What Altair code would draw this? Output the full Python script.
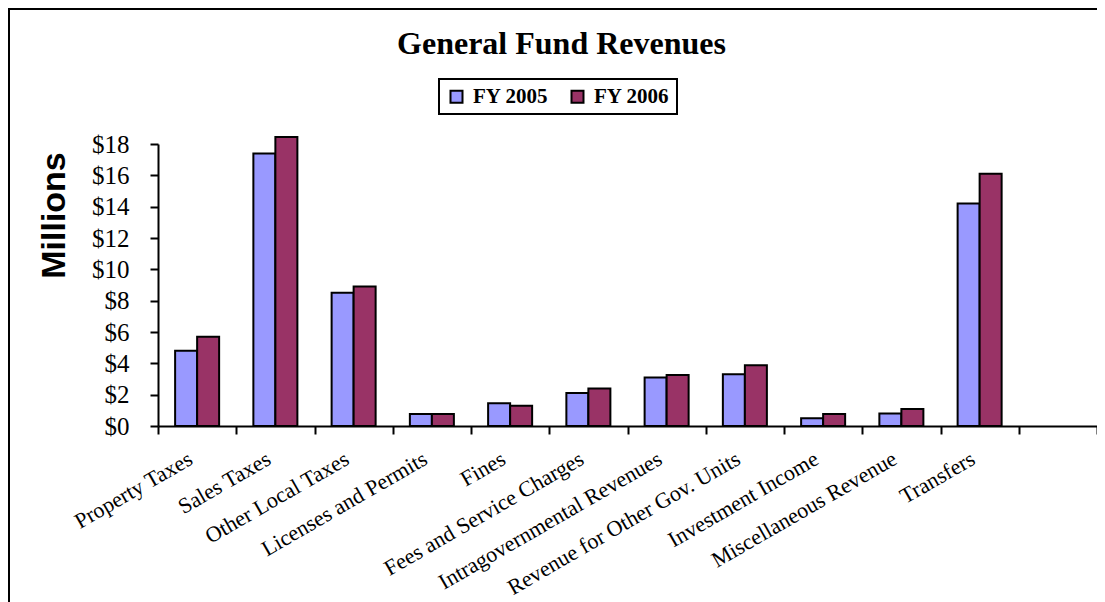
import altair as alt
import pandas as pd

categories = ["Property Taxes", "Sales Taxes", "Other Local Taxes", "Licenses and Permits",
              "Fines", "Fees and Service Charges", "Intragovernmental Revenues",
              "Revenue for Other Gov. Units", "Investment Income", "Miscellaneous Revenue",
              "Transfers"]
fy2005 = [4.8, 17.4, 8.5, 0.77, 1.45, 2.1, 3.1, 3.3, 0.5, 0.8, 14.2]
fy2006 = [5.7, 18.45, 8.9, 0.77, 1.3, 2.4, 3.25, 3.87, 0.77, 1.08, 16.1]
series = ["FY 2005", "FY 2006"]
colors = ["#9999FF", "#993366"]
y_ticks = [0, 2, 4, 6, 8, 10, 12, 14, 16, 18]
x_domain = categories + [" "]

rows = []
for c, a, b in zip(categories, fy2005, fy2006):
    rows.append({"Category": c, "Series": series[0], "Value": a})
    rows.append({"Category": c, "Series": series[1], "Value": b})
df = pd.DataFrame(rows)

frame = alt.Chart(pd.DataFrame({"k": [0]})).mark_rect(
    filled=False, stroke="black", strokeWidth=2
).encode(
    x=alt.value(-149), x2=alt.value(960), y=alt.value(-135), y2=alt.value(480)
)

bars = alt.Chart(df).mark_bar(stroke="black", strokeWidth=2, clip=False).encode(
    x=alt.X("Category:N", sort=None,
            scale=alt.Scale(domain=x_domain, paddingInner=0, paddingOuter=0),
            axis=alt.Axis(title=None, labelAngle=-30, labelFont="Liberation Serif",
                          labelFontSize=22, labelColor="black", labelPadding=14,
                          labelOffset=-12, labelLimit=600,
                          domainColor="black", domainWidth=2, tickColor="black",
                          tickWidth=2, tickSize=8, tickBand="extent", labelOverlap=False)),
    xOffset=alt.XOffset("Series:N", scale=alt.Scale(domain=series, paddingInner=0,
                                                      paddingOuter=0.778)),
    y=alt.Y("Value:Q", scale=alt.Scale(domain=[0, 18], nice=False),
            axis=alt.Axis(values=y_ticks, labelExpr="'$' + datum.value",
                          labelFont="Liberation Serif", labelFontSize=25,
                          labelColor="black", labelPadding=21, domainColor="black",
                          domainWidth=2, tickColor="black", tickWidth=2, tickSize=8,
                          grid=False, title="Millions", titleFont="Liberation Sans",
                          titleFontSize=34, titleFontWeight="bold", titleColor="black",
                          titleAngle=270, titleX=-104, titleY=71, titleAlign="center",
                          titleBaseline="middle")),
    color=alt.Color("Series:N", scale=alt.Scale(domain=series, range=colors),
                    legend=alt.Legend(title=None, orient="none", legendX=281, legendY=-65,
                                      direction="horizontal", symbolType="square",
                                      symbolSize=144, symbolStrokeColor="black",
                                      symbolStrokeWidth=2, labelFont="Liberation Serif",
                                      labelFontSize=21, labelFontWeight="bold",
                                      labelColor="black", labelOffset=6, columnPadding=18,
                                      strokeColor="black", fillColor="white", padding=7))
)

base = alt.layer(frame, bars).properties(
    width=939, height=282,
    title=alt.Title("General Fund Revenues", font="Liberation Serif", fontSize=32,
                    fontWeight="bold", color="black", anchor="middle", frame="group",
                    dx=-66, dy=57),
    autosize=alt.AutoSizeParams(type="none"),
    padding={"left": 150, "top": 136, "right": 0, "bottom": 176},
).configure_view(stroke=None)

try:
    chart = base.configure_legend(strokeWidth=2)
    chart.to_dict()
except Exception:
    chart = base

chart.save("out.html", embed_options={"renderer": "svg", "actions": False})
